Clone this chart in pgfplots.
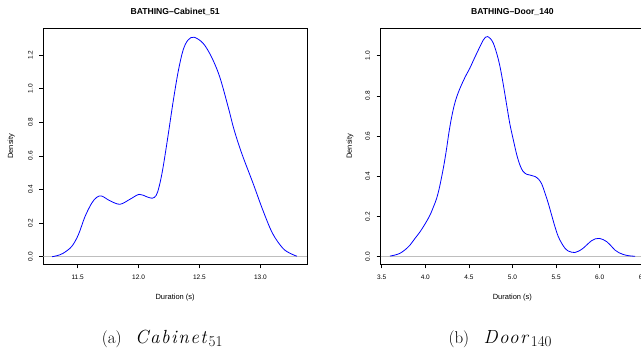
\documentclass[border=0pt]{standalone}
\usepackage{fontspec}
\usepackage{pgfplots}
\pgfplotsset{compat=1.18}
\usepackage{pgfplotstable}
\newfontfamily\rsans{Liberation Sans}
\newfontfamily\capit[LetterSpace=8]{Latin Modern Roman}
\definecolor{rgray}{RGB}{190,190,190}
\definecolor{rblue}{RGB}{0,0,255}

\pgfplotstableread{
x y
11.290 0.000
11.330 0.006
11.380 0.020
11.450 0.060
11.505 0.129
11.560 0.238
11.615 0.318
11.656 0.353
11.697 0.361
11.765 0.333
11.847 0.312
11.930 0.342
12.005 0.371
12.066 0.357
12.112 0.348
12.145 0.365
12.170 0.420
12.200 0.526
12.243 0.724
12.284 0.923
12.325 1.100
12.366 1.230
12.407 1.290
12.456 1.306
12.530 1.270
12.598 1.190
12.666 1.071
12.735 0.893
12.775 0.780
12.810 0.695
12.857 0.595
12.940 0.437
13.020 0.278
13.100 0.139
13.185 0.050
13.250 0.018
13.300 0.003
}\cabinet

\pgfplotstableread{
x y
3.595 0.003
3.650 0.008
3.710 0.017
3.770 0.035
3.825 0.058
3.880 0.090
3.940 0.124
4.000 0.165
4.054 0.207
4.100 0.255
4.130 0.290
4.160 0.340
4.188 0.398
4.215 0.460
4.245 0.540
4.270 0.615
4.300 0.690
4.330 0.750
4.360 0.795
4.400 0.840
4.436 0.875
4.470 0.905
4.510 0.937
4.550 0.975
4.590 1.012
4.630 1.048
4.665 1.078
4.690 1.092
4.716 1.095
4.750 1.083
4.780 1.062
4.820 1.010
4.857 0.945
4.895 0.855
4.933 0.755
4.970 0.660
5.010 0.580
5.050 0.505
5.086 0.455
5.120 0.425
5.163 0.410
5.210 0.405
5.258 0.399
5.300 0.385
5.335 0.362
5.370 0.320
5.410 0.266
5.450 0.205
5.487 0.149
5.525 0.100
5.564 0.067
5.600 0.043
5.640 0.028
5.680 0.022
5.717 0.021
5.760 0.028
5.810 0.042
5.860 0.062
5.908 0.080
5.950 0.089
5.997 0.091
6.040 0.085
6.080 0.075
6.130 0.054
6.175 0.033
6.220 0.020
6.270 0.011
6.330 0.005
6.405 0.002
}\door

\pgfplotsset{
  rstyle/.style={
    scale only axis,
    axis lines=box,
    axis line style={line width=0.6pt},
    tick align=outside,
    xtick pos=left, ytick pos=left,
    major tick length=4pt,
    every tick/.style={black, line width=0.6pt},
    /pgf/number format/assume math mode=true,
    /pgf/number format/fixed,
    /pgf/number format/fixed zerofill,
    /pgf/number format/precision=1,
    tick label style={font=\rsans\fontsize{6.5}{7}\selectfont},
    xticklabel style={anchor=center, yshift=-9.3pt},
    yticklabel style={xshift=-9pt, rotate=90, anchor=center},
    label style={font=\rsans\fontsize{7.5}{8}\selectfont},
    every axis title shift=0pt,
    title style={font=\rsans\bfseries\fontsize{8.6}{9}\selectfont, anchor=center, inner sep=1pt, at={(axis description cs:0.5,1.068)}},
    xlabel style={anchor=center, at={(axis description cs:0.5,-0.1397)}},
  }
}

\begin{document}
\begin{tikzpicture}[trim right=641pt]
\path (0,0) rectangle (641pt,352pt);
\begin{axis}[rstyle,
  at={(43.3pt,87.7pt)}, anchor=south west,
  width=263.7pt, height=236.3pt,
  xmin=11.218, xmax=13.383, ymin=-0.0452, ymax=1.361,
  xtick={11.5,12,12.5,13},
  ytick={0,0.2,0.4,0.6,0.8,1.0,1.2},
  title={BATHING–Cabinet\_51},
  xlabel={Duration (s)}, ylabel={Density},
  ylabel style={anchor=center, at={(axis description cs:-0.1214,0.5)}},
]
\addplot[rgray, line width=0.6pt] coordinates {(11.218,0) (13.383,0)};
\addplot[rblue, line width=0.8pt, smooth, tension=0.55] table[x=x,y=y] {\cabinet};
\end{axis}
\begin{axis}[rstyle,
  at={(380.7pt,87.7pt)}, anchor=south west,
  width=263.3pt, height=236.3pt,
  xmin=3.4885, xmax=6.508, ymin=-0.0378, ymax=1.1378,
  xtick={3.5,4,4.5,5,5.5,6,6.5},
  ytick={0,0.2,0.4,0.6,0.8,1.0},
  title={BATHING–Door\_140},
  xlabel={Duration (s)}, ylabel={Density},
  ylabel style={anchor=center, at={(axis description cs:-0.1166,0.5)}},
]
\addplot[rgray, line width=0.6pt] coordinates {(3.4885,0) (6.508,0)};
\addplot[rblue, line width=0.8pt, smooth, tension=0.55] table[x=x,y=y] {\door};
\end{axis}
% captions
\node[anchor=base west, inner sep=0, font=\fontsize{17}{18}\selectfont] at (101.7pt,8pt) {(a)};
\node[anchor=base west, inner sep=0, font=\capit\itshape\fontsize{19}{20}\selectfont] at (135pt,8pt) {Cabinet};
\node[anchor=base west, inner sep=0, font=\fontsize{15}{16}\selectfont] at (208.5pt,5pt) {51};
\node[anchor=base west, inner sep=0, font=\fontsize{17}{18}\selectfont] at (448.3pt,8pt) {(b)};
\node[anchor=base west, inner sep=0, font=\capit\itshape\fontsize{19}{20}\selectfont] at (483.3pt,8pt) {Door};
\node[anchor=base west, inner sep=0, font=\fontsize{15}{16}\selectfont] at (530.7pt,5pt) {140};
\end{tikzpicture}
\end{document}
